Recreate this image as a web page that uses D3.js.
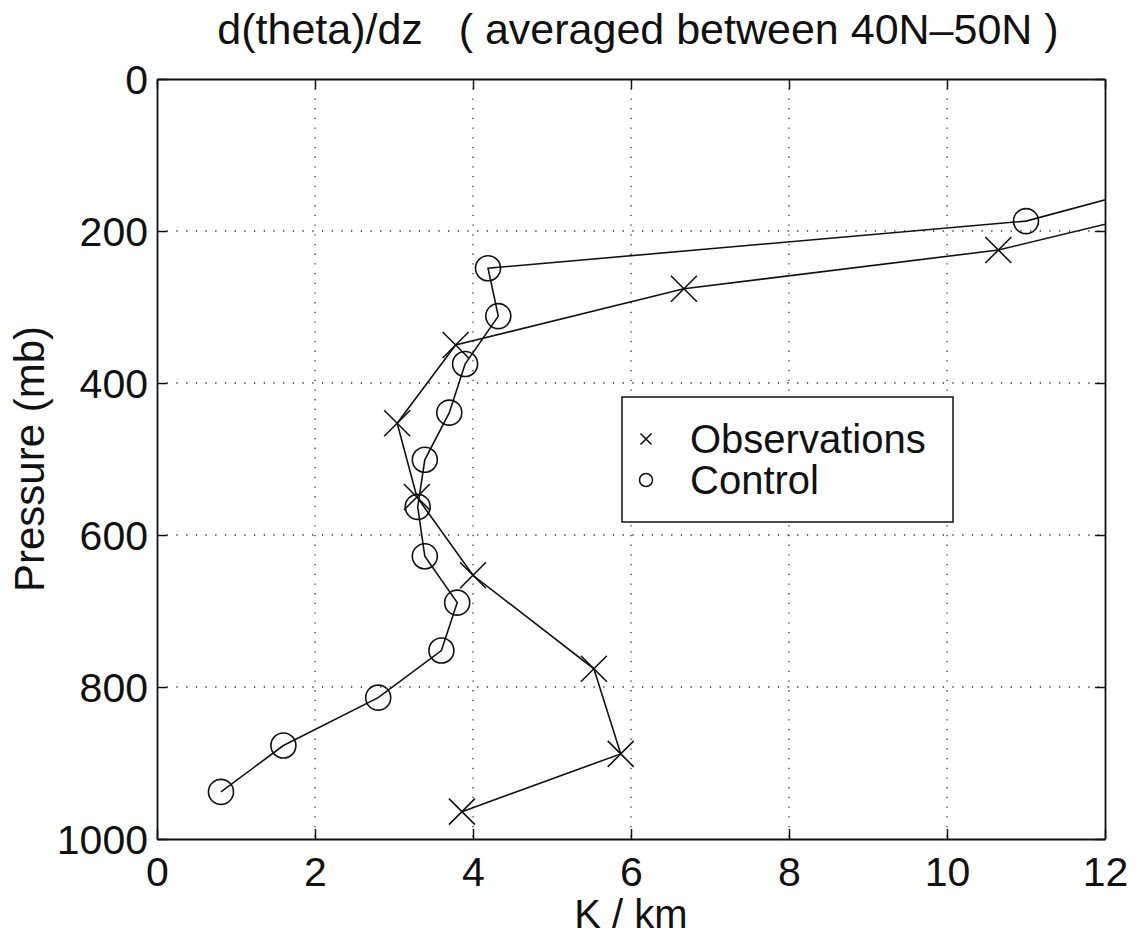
<!DOCTYPE html>
<html>
<head>
<meta charset="utf-8">
<script src="https://cdn.jsdelivr.net/npm/d3@7"></script>
<style>
  body { margin: 0; background: #fff; }
  text { font-family: "Liberation Sans", Arial, sans-serif; fill: #111; }
</style>
</head>
<body>
<svg id="chart"></svg>
<script>
// axis ticks
var kTicks = [0, 2, 4, 6, 8, 10, 12];
var pTicks = [0, 200, 400, 600, 800, 1000];

// Observations (x markers)
var obsK = [3.86, 5.87, 5.53, 4.0, 3.29, 3.04, 3.78, 6.67, 10.65, 14.0];
var obsP = [964, 888, 776, 653, 550, 453, 350, 276, 225, 141];

// Control run (circles)
var ctlK = [0.81, 1.6, 2.8, 3.6, 3.8, 3.39, 3.3, 3.39, 3.7, 3.9, 4.32, 4.19, 11.0, 13.5];
var ctlP = [938, 877, 814, 752, 689, 628, 563, 501, 439, 375, 312, 249, 187, 117];

var seriesNames = ["Observations", "Control"];

var size = { width: 1138, height: 936 };
var plot = { left: 157, right: 1105, top: 79, bottom: 839 };

var svg = d3.select("#chart")
  .attr("width", size.width)
  .attr("height", size.height);

var x = d3.scaleLinear().domain([0, 12]).range([plot.left, plot.right]);
var y = d3.scaleLinear().domain([0, 1000]).range([plot.top, plot.bottom]);

svg.append("defs").append("clipPath").attr("id", "clip")
  .append("rect")
  .attr("x", plot.left).attr("y", plot.top)
  .attr("width", plot.right - plot.left)
  .attr("height", plot.bottom - plot.top);

// dotted grid
var grid = svg.append("g")
  .attr("stroke", "#333")
  .attr("stroke-width", 1.3)
  .attr("stroke-dasharray", "1.3,8.4");

grid.selectAll(".gx").data(kTicks.slice(1, -1)).enter().append("line")
  .attr("x1", d => x(d)).attr("x2", d => x(d))
  .attr("y1", plot.top).attr("y2", plot.bottom);

grid.selectAll(".gy").data(pTicks.slice(1, -1)).enter().append("line")
  .attr("y1", d => y(d)).attr("y2", d => y(d))
  .attr("x1", plot.left).attr("x2", plot.right);

// axes: ticks inside, box all round
var tickLen = 10;
var fmt = d3.format("d");
var axisB = d3.axisBottom(x).tickValues(kTicks).tickSizeInner(-tickLen).tickSizeOuter(0).tickFormat(fmt);
var axisT = d3.axisTop(x).tickValues(kTicks).tickSizeInner(-tickLen).tickSizeOuter(0).tickFormat("");
var axisL = d3.axisLeft(y).tickValues(pTicks).tickSizeInner(-tickLen).tickSizeOuter(0).tickPadding(9).tickFormat(fmt);
var axisR = d3.axisRight(y).tickValues(pTicks).tickSizeInner(-tickLen).tickSizeOuter(0).tickFormat("");

function styleAxis(g) {
  g.select(".domain").attr("stroke", "#111").attr("stroke-width", 1.8);
  g.selectAll(".tick line").attr("stroke", "#111").attr("stroke-width", 1.5);
  g.selectAll(".tick text").attr("fill", "#111").attr("font-size", 41)
    .attr("font-family", "Liberation Sans, Arial, sans-serif");
}

svg.append("g").attr("transform", "translate(0," + plot.bottom + ")").call(axisB).call(styleAxis)
  .selectAll(".tick text").attr("dy", "0.71em").attr("y", 18);
svg.append("g").attr("transform", "translate(0," + plot.top + ")").call(axisT).call(styleAxis);
svg.append("g").attr("transform", "translate(" + plot.left + ",0)").call(axisL).call(styleAxis)
  .selectAll(".tick text").attr("dy", "0.36em");
svg.append("g").attr("transform", "translate(" + plot.right + ",0)").call(axisR).call(styleAxis);

// series lines
var line = d3.line().x(d => x(d[0])).y(d => y(d[1]));
var obs = d3.zip(obsK, obsP);
var ctl = d3.zip(ctlK, ctlP);

var marks = svg.append("g").attr("clip-path", "url(#clip)");

marks.append("path").datum(obs)
  .attr("d", line).attr("fill", "none").attr("stroke", "#111").attr("stroke-width", 1.6);
marks.append("path").datum(ctl)
  .attr("d", line).attr("fill", "none").attr("stroke", "#111").attr("stroke-width", 1.6);

function cross(g, s) {
  g.append("path")
    .attr("d", "M" + (-s) + "," + (-s) + "L" + s + "," + s + "M" + (-s) + "," + s + "L" + s + "," + (-s))
    .attr("stroke", "#111").attr("stroke-width", 1.6).attr("fill", "none");
}

marks.selectAll(".obs").data(obs).enter().append("g")
  .attr("transform", d => "translate(" + x(d[0]) + "," + y(d[1]) + ")")
  .each(function(){ cross(d3.select(this), 13); });

marks.selectAll(".ctl").data(ctl).enter().append("circle")
  .attr("cx", d => x(d[0])).attr("cy", d => y(d[1])).attr("r", 12.5)
  .attr("fill", "none").attr("stroke", "#111").attr("stroke-width", 1.6);

// legend
var leg = svg.append("g").attr("transform", "translate(622,397)");
leg.append("rect").attr("width", 331).attr("height", 125)
  .attr("fill", "#fff").attr("stroke", "#111").attr("stroke-width", 1.5);

var rows = leg.selectAll(".row").data(seriesNames).enter().append("g")
  .attr("transform", (d, i) => "translate(0," + (42 + i * 41) + ")");
rows.append("text").attr("x", 68).attr("y", 14).attr("font-size", 40).text(d => d);
rows.filter((d, i) => i === 0).each(function(){
  var g = d3.select(this).append("g").attr("transform", "translate(24,0)");
  cross(g, 5.5);
});
rows.filter((d, i) => i === 1).append("circle")
  .attr("cx", 24).attr("cy", 0).attr("r", 6.5)
  .attr("fill", "none").attr("stroke", "#111").attr("stroke-width", 1.5);

// titles
svg.append("text")
  .attr("x", 638).attr("y", 44)
  .attr("text-anchor", "middle").attr("font-size", 43)
  .style("white-space", "pre")
  .text("d(theta)/dz   ( averaged between 40N\u201350N )");

svg.append("text")
  .attr("x", 631).attr("y", 928)
  .attr("text-anchor", "middle").attr("font-size", 40)
  .text("K / km");

svg.append("text")
  .attr("transform", "translate(44,459) rotate(-90)")
  .attr("text-anchor", "middle").attr("font-size", 42)
  .text("Pressure (mb)");
</script>
</body>
</html>
